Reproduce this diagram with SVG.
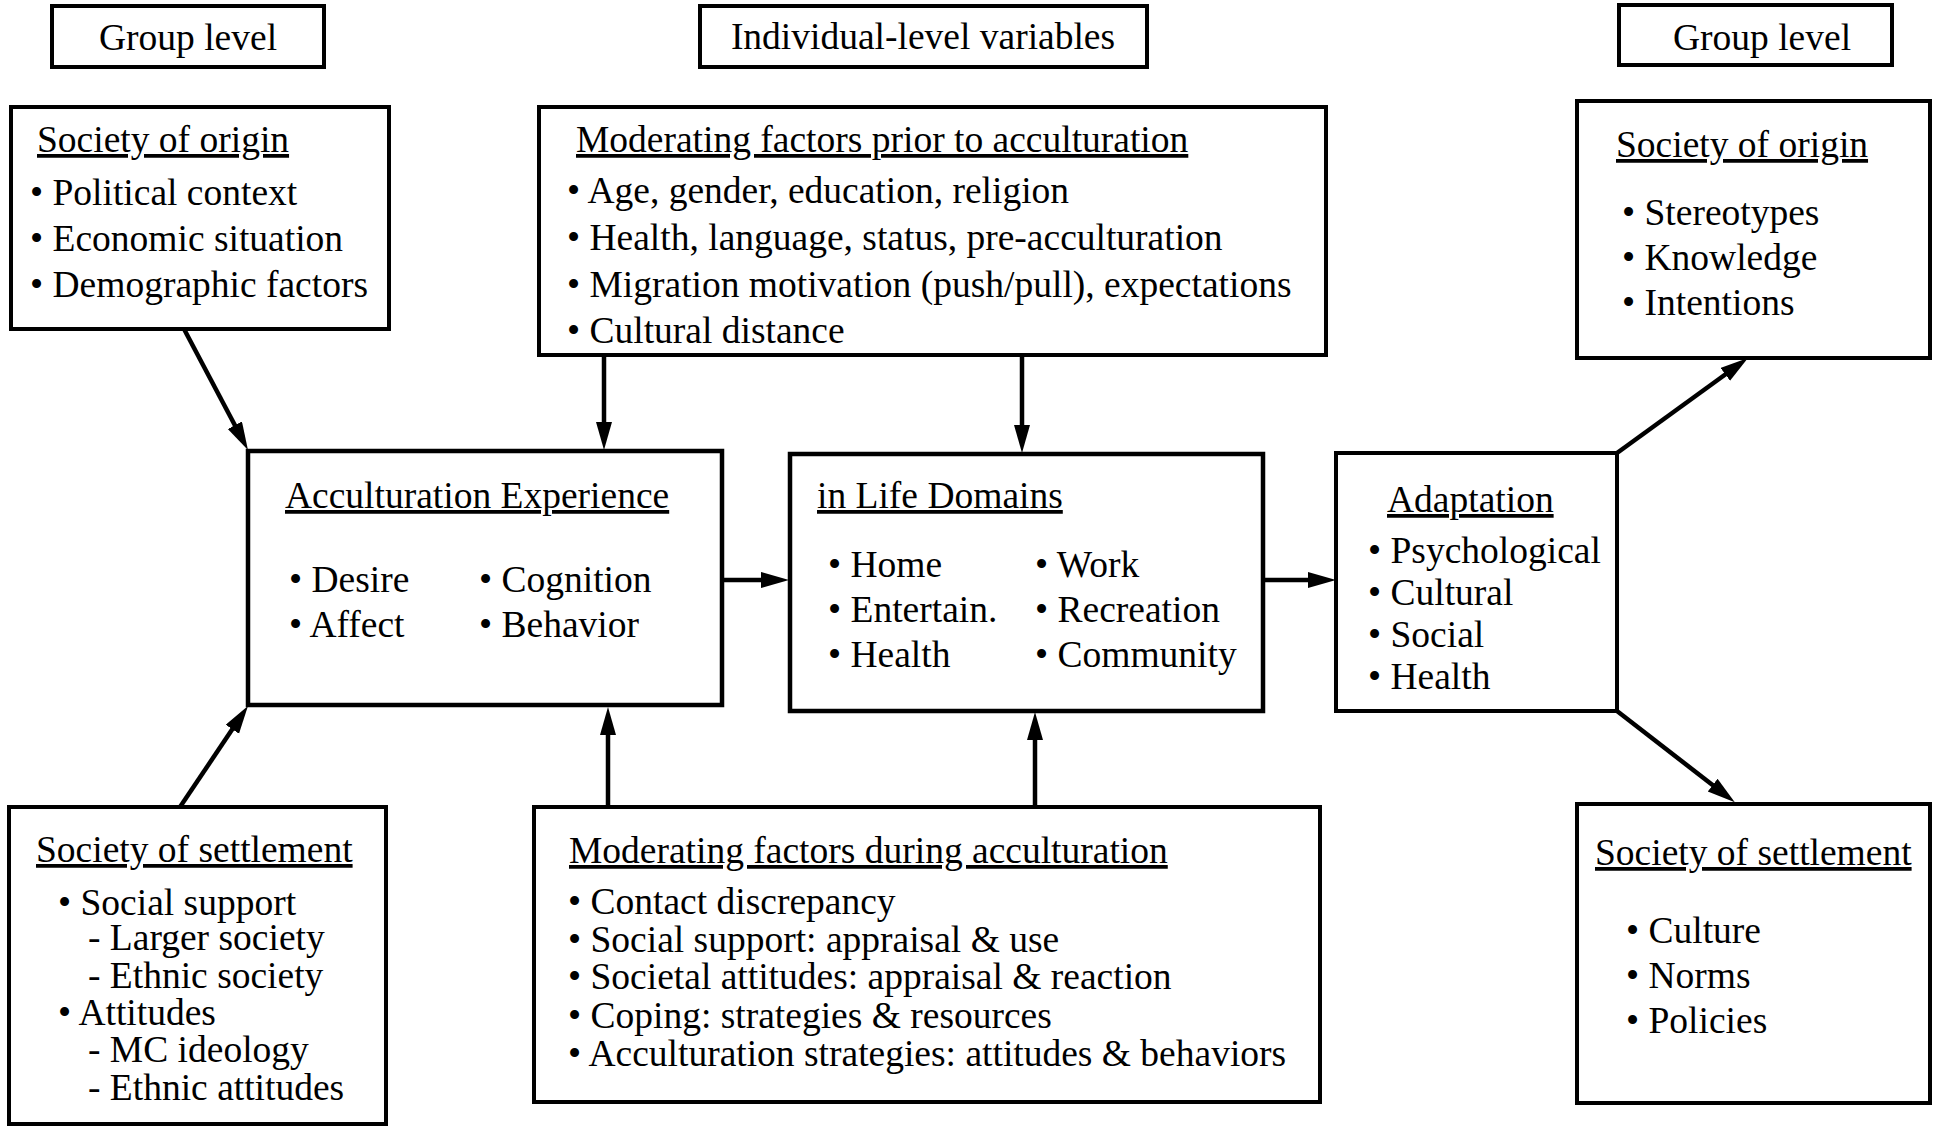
<svg xmlns="http://www.w3.org/2000/svg" width="1939" height="1131" viewBox="0 0 1939 1131">
<style>
text{font-family:"Liberation Serif","Times New Roman",serif;font-size:37.5px;fill:#000}
.t{text-decoration:underline}
.box{fill:#fff;stroke:#000;stroke-width:4}
.con{stroke:#000;stroke-width:4.5;fill:none}
</style>
<defs>
<marker id="ah" markerUnits="userSpaceOnUse" markerWidth="30" markerHeight="18" refX="8" refY="8" orient="auto">
<path d="M0,0 L28,8 L0,16 Z" fill="#000"/>
</marker>
</defs>
<rect width="1939" height="1131" fill="#fff"/>

<g id="hdr-group-left"><rect class="box" x="52" y="6" width="272" height="61"/><text x="99" y="50">Group level</text></g>
<g id="hdr-individual"><rect class="box" x="700" y="6" width="447" height="61"/><text x="923" y="49" text-anchor="middle">Individual-level variables</text></g>
<g id="hdr-group-right"><rect class="box" x="1619" y="5" width="273" height="60"/><text x="1673" y="50">Group level</text></g>

<g id="origin-left"><rect class="box" x="11" y="107" width="378" height="222"/>
<text class="t" x="37" y="152">Society of origin</text>
<text x="30" y="205">• Political context</text>
<text x="30" y="251">• Economic situation</text>
<text x="30" y="297">• Demographic factors</text></g>

<g id="prior"><rect class="box" x="539" y="107" width="787" height="248"/>
<text class="t" x="576" y="152">Moderating factors prior to acculturation</text>
<text x="567" y="203">• Age, gender, education, religion</text>
<text x="567" y="250">• Health, language, status, pre-acculturation</text>
<text x="567" y="297">• Migration motivation (push/pull), expectations</text>
<text x="567" y="343">• Cultural distance</text></g>

<g id="origin-right"><rect class="box" x="1577" y="101" width="353" height="257"/>
<text class="t" x="1616" y="157">Society of origin</text>
<text x="1622" y="225">• Stereotypes</text>
<text x="1622" y="270">• Knowledge</text>
<text x="1622" y="315">• Intentions</text></g>

<g id="experience"><rect class="box" x="248" y="451" width="474" height="254" style="stroke-width:4.5"/>
<text class="t" x="285" y="508">Acculturation Experience</text>
<text x="289" y="592">• Desire</text>
<text x="289" y="637">• Affect</text>
<text x="479" y="592">• Cognition</text>
<text x="479" y="637">• Behavior</text></g>

<g id="domains"><rect class="box" x="790" y="454" width="473" height="257" style="stroke-width:4.5"/>
<text class="t" x="817" y="508">in Life Domains</text>
<text x="828" y="577">• Home</text>
<text x="828" y="622">• Entertain.</text>
<text x="828" y="667">• Health</text>
<text x="1035" y="577">• Work</text>
<text x="1035" y="622">• Recreation</text>
<text x="1035" y="667">• Community</text></g>

<g id="adaptation"><rect class="box" x="1336" y="453" width="281" height="258"/>
<text class="t" x="1387" y="512">Adaptation</text>
<text x="1368" y="563">• Psychological</text>
<text x="1368" y="605">• Cultural</text>
<text x="1368" y="647">• Social</text>
<text x="1368" y="689">• Health</text></g>

<g id="settlement-left"><rect class="box" x="9" y="807" width="377" height="317"/>
<text class="t" x="36" y="862">Society of settlement</text>
<text x="58" y="915">• Social support</text>
<text x="88" y="950">- Larger society</text>
<text x="88" y="988">- Ethnic society</text>
<text x="58" y="1025">• Attitudes</text>
<text x="88" y="1062">- MC ideology</text>
<text x="88" y="1100">- Ethnic attitudes</text></g>

<g id="during"><rect class="box" x="534" y="807" width="786" height="295"/>
<text class="t" x="569" y="863">Moderating factors during acculturation</text>
<text x="568" y="914">• Contact discrepancy</text>
<text x="568" y="952">• Social support: appraisal &amp; use</text>
<text x="568" y="989">• Societal attitudes: appraisal &amp; reaction</text>
<text x="568" y="1028">• Coping: strategies &amp; resources</text>
<text x="568" y="1066">• Acculturation strategies: attitudes &amp; behaviors</text></g>

<g id="settlement-right"><rect class="box" x="1577" y="804" width="353" height="299"/>
<text class="t" x="1595" y="865">Society of settlement</text>
<text x="1626" y="943">• Culture</text>
<text x="1626" y="988">• Norms</text>
<text x="1626" y="1033">• Policies</text></g>

<g id="connectors">
<line class="con" x1="184" y1="329" x2="238.6" y2="432.3" marker-end="url(#ah)"/>
<line class="con" x1="180" y1="807" x2="236.8" y2="722.6" marker-end="url(#ah)"/>
<line class="con" x1="604" y1="355" x2="604" y2="430" marker-end="url(#ah)"/>
<line class="con" x1="1022" y1="355" x2="1022" y2="433" marker-end="url(#ah)"/>
<line class="con" x1="608" y1="807" x2="608" y2="727" marker-end="url(#ah)"/>
<line class="con" x1="1035" y1="807" x2="1035" y2="732" marker-end="url(#ah)"/>
<line class="con" x1="722" y1="580" x2="769" y2="580" marker-end="url(#ah)"/>
<line class="con" x1="1263" y1="580" x2="1316" y2="580" marker-end="url(#ah)"/>
<line class="con" x1="1617" y1="453" x2="1731.8" y2="369.7" marker-end="url(#ah)"/>
<line class="con" x1="1617" y1="711" x2="1719" y2="790" marker-end="url(#ah)"/>
</g>
</svg>
